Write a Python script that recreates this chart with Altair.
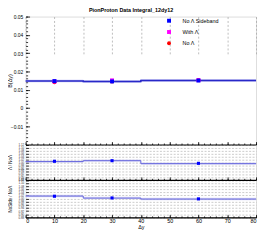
import altair as alt
import pandas as pd

# ---------------- data ----------------
x_centers = [10, 30, 60]
x_edges = [0, 20, 40, 80]

series_names = ["No Λ Sideband", "With Λ", "No Λ"]
series_colors = ["#0000ff", "#ff00ff", "#ff0000"]
series_shapes = ["square", "square", "circle"]

b_nolam_side = [0.0147, 0.0145, 0.0150]
b_with_lam = [0.0145, 0.0151, 0.0152]
b_no_lam = [0.0140, 0.0145, 0.0153]

hist_b = [0.0147, 0.0145, 0.0150]
hist_b_err = [0.0007, 0.0007, 0.0007]

ratio_lam = [1.006, 1.010, 0.992]
ratio_lam_hist = [1.004, 1.010, 0.990]
ratio_side = [1.015, 1.004, 0.998]
ratio_side_hist = [1.016, 1.003, 0.997]
ratio_err = [0.008, 0.008, 0.008]

title_text = "PionProton Data Integral_12dy12"
b_title = "B(Δy)"
r1_title = "Λ / NoΛ"
r2_title = "NoSide / NoΛ"
x_title = "Δy"

b_ticks = [-0.01, 0, 0.01, 0.02, 0.03, 0.04, 0.05]
b_minor = [round(-0.02 + 0.002 * i, 3) for i in range(36)]
ratio_ticks = [round(0.88 + 0.02 * i, 2) for i in range(13)]
x_ticks = [0, 10, 20, 30, 40, 50, 60, 70, 80]
x_minor = list(range(0, 81, 2))

# ---------------- layout ----------------
W = 235
H = 204.8
P1_BOT = 130.5
P2_BOT = 166.5
FONT = "Liberation Sans"

xs = alt.Scale(domain=[0, 80], nice=False, zero=False)
ys1 = alt.Scale(domain=[-0.02, 0.05], range=[P1_BOT, 0], nice=False, zero=False)
ys2 = alt.Scale(domain=[0.88, 1.12], range=[P2_BOT, P1_BOT], nice=False, zero=False)
ys3 = alt.Scale(domain=[0.88, 1.12], range=[H, P2_BOT], nice=False, zero=False)


def step_df(vals, errs):
    v = list(vals) + [vals[-1]]
    e = list(errs) + [errs[-1]]
    return pd.DataFrame({
        "x": x_edges,
        "v": v,
        "lo": [a - b for a, b in zip(v, e)],
        "hi": [a + b for a, b in zip(v, e)],
    })


dummy = pd.DataFrame({"x": [40.0], "y": [0.0]})


def y_axis_layer(ys, yval, axis):
    d = pd.DataFrame({"x": [40.0], "y": [yval]})
    return alt.Chart(d).mark_point(opacity=0).encode(
        x=alt.X("x:Q", scale=xs, axis=None),
        y=alt.Y("y:Q", scale=ys, axis=axis),
    )


def x_axis_layer(ys, yval, axis):
    d = pd.DataFrame({"x": [40.0], "y": [yval]})
    return alt.Chart(d).mark_point(opacity=0).encode(
        x=alt.X("x:Q", scale=xs, axis=axis),
        y=alt.Y("y:Q", scale=ys, axis=None),
    )


def inner_ticks(values, size, orient="left", offset=None):
    return alt.Axis(values=values, orient=orient, offset=-size if offset is None else offset,
                    tickSize=size, labels=False, domain=False, grid=False, title=None,
                    tickColor="black", tickWidth=0.8)


def band_line(df, ys, band_color, line_color, lw):
    band = alt.Chart(df).mark_area(interpolate="step-after", color=band_color, opacity=0.6).encode(
        x=alt.X("x:Q", scale=xs, axis=None),
        y=alt.Y("lo:Q", scale=ys, axis=None),
        y2="hi:Q",
    )
    line = alt.Chart(df).mark_line(interpolate="step-after", color=line_color, strokeWidth=lw).encode(
        x=alt.X("x:Q", scale=xs, axis=None),
        y=alt.Y("v:Q", scale=ys, axis=None),
    )
    return [band, line]


# ---------------- panel 1 ----------------
pts = pd.DataFrame({
    "x": x_centers * 3,
    "y": b_no_lam + b_with_lam + b_nolam_side,
    "series": [series_names[2]] * 3 + [series_names[1]] * 3 + [series_names[0]] * 3,
})

legend = alt.Legend(orient="none", legendX=143.5, legendY=1.5, title=None,
                    symbolSize=16, symbolStrokeWidth=0, labelFontSize=5.5,
                    labelFont=FONT, labelColor="black", rowPadding=4.5, padding=0,
                    labelOffset=11)

points1 = alt.Chart(pts).mark_point(filled=True, size=16, opacity=1).encode(
    x=alt.X("x:Q", scale=xs, axis=None),
    y=alt.Y("y:Q", scale=ys1, axis=None),
    color=alt.Color("series:N", scale=alt.Scale(domain=series_names, range=series_colors), legend=legend),
    shape=alt.Shape("series:N", scale=alt.Scale(domain=series_names, range=series_shapes), legend=legend),
)

p1 = alt.layer(
    *band_line(step_df(hist_b, hist_b_err), ys1, "#9c9cec", "#2828c8", 1.6),
    points1,
    y_axis_layer(ys1, 0.0, alt.Axis(values=b_ticks, orient="left", ticks=False, tickSize=0, domain=False,
                                    grid=False, labelFontSize=5, labelPadding=3, labelFont=FONT,
                                    labelExpr="datum.value == 0 ? '0' : format(datum.value, '.2f')",
                                    title=b_title, titleFontSize=5.5, titleFont=FONT,
                                    titleFontWeight="normal", titleX=-13)),
    y_axis_layer(ys1, 0.0, inner_ticks(b_ticks, 4)),
    y_axis_layer(ys1, 0.0, inner_ticks(b_minor, 2)),
    x_axis_layer(ys1, 0.0, alt.Axis(values=x_ticks, orient="top", offset=-P1_BOT, tickSize=3,
                                    labels=False, domain=True, domainColor="black", domainWidth=1.2,
                                    grid=False, title=None, tickColor="black", tickWidth=0.8)),
    x_axis_layer(ys1, 0.0, alt.Axis(values=x_minor, orient="top", offset=-P1_BOT, tickSize=1.5,
                                    labels=False, domain=False, grid=False, title=None,
                                    tickColor="black", tickWidth=0.8)),
).resolve_axis(x="independent", y="independent")

# ---------------- ratio panels ----------------
def ratio_panel(ys, pvals, hvals, title, bottom, extra):
    dfp = pd.DataFrame({"x": x_centers, "y": pvals})
    pts_r = alt.Chart(dfp).mark_point(filled=True, size=10, color="#0000ff", shape="square", opacity=1).encode(
        x=alt.X("x:Q", scale=xs, axis=None),
        y=alt.Y("y:Q", scale=ys, axis=None),
    )
    layers = band_line(step_df(hvals, ratio_err), ys, "#c4c4f0", "#6464dc", 1.0)
    layers.append(pts_r)
    layers.append(y_axis_layer(ys, 1.0, alt.Axis(
        values=ratio_ticks, orient="left", ticks=False, tickSize=0, domain=False,
        grid=True, gridColor="#b4b4b4", gridDash=[2, 1.5], gridWidth=0.7,
        labelFontSize=3, labelPadding=2, labelFont=FONT, labelColor="#333333", labelOverlap=False,
        labelExpr="format(datum.value, '.2f')",
        title=title, titleFontSize=4.5, titleFont=FONT, titleFontWeight="normal", titleX=-13.5)))
    layers.append(y_axis_layer(ys, 1.0, inner_ticks(ratio_ticks, 3)))
    layers.append(x_axis_layer(ys, 1.0, alt.Axis(values=x_ticks, orient="top", offset=-bottom, tickSize=3,
                                                 labels=False, domain=True, domainColor="black",
                                                 domainWidth=1.2, grid=False, title=None,
                                                 tickColor="black", tickWidth=0.8)))
    layers.append(x_axis_layer(ys, 1.0, alt.Axis(values=x_minor, orient="top", offset=-bottom, tickSize=1.5,
                                                 labels=False, domain=False, grid=False, title=None,
                                                 tickColor="black", tickWidth=0.8)))
    layers += extra
    return alt.layer(*layers).resolve_axis(x="independent", y="independent")


p2 = ratio_panel(ys2, ratio_lam, ratio_lam_hist, r1_title, P2_BOT, [])

bottom_axis = x_axis_layer(ys3, 1.0, alt.Axis(
    values=x_ticks, orient="bottom", ticks=False, tickSize=0, domain=False,
    grid=True, gridColor="#a0a0a0", gridDash=[2, 2], gridWidth=0.7,
    labelFontSize=5.5, labelPadding=1, labelFont=FONT, labelColor="black",
    title=x_title, titleFontSize=5.5, titleFont=FONT, titleFontWeight="normal", titlePadding=0.5))

p3 = ratio_panel(ys3, ratio_side, ratio_side_hist, r2_title, H, [bottom_axis])

chart = alt.layer(p1, p2, p3).resolve_scale(y="independent").resolve_axis(
    x="independent", y="independent"
).properties(
    width=W, height=H,
    title=alt.TitleParams(title_text, fontSize=5.5, fontWeight="bold", font=FONT, offset=1,
                          anchor="middle", frame="group", dx=-10, color="black"),
    autosize=alt.AutoSizeParams(type="none"),
    padding={"left": 18, "top": 6.5, "right": 2, "bottom": 12.7},
).configure_view(stroke="black", strokeWidth=1.2).configure(background="white")

chart.save("out.html", embed_options={"renderer": "svg", "actions": False})
